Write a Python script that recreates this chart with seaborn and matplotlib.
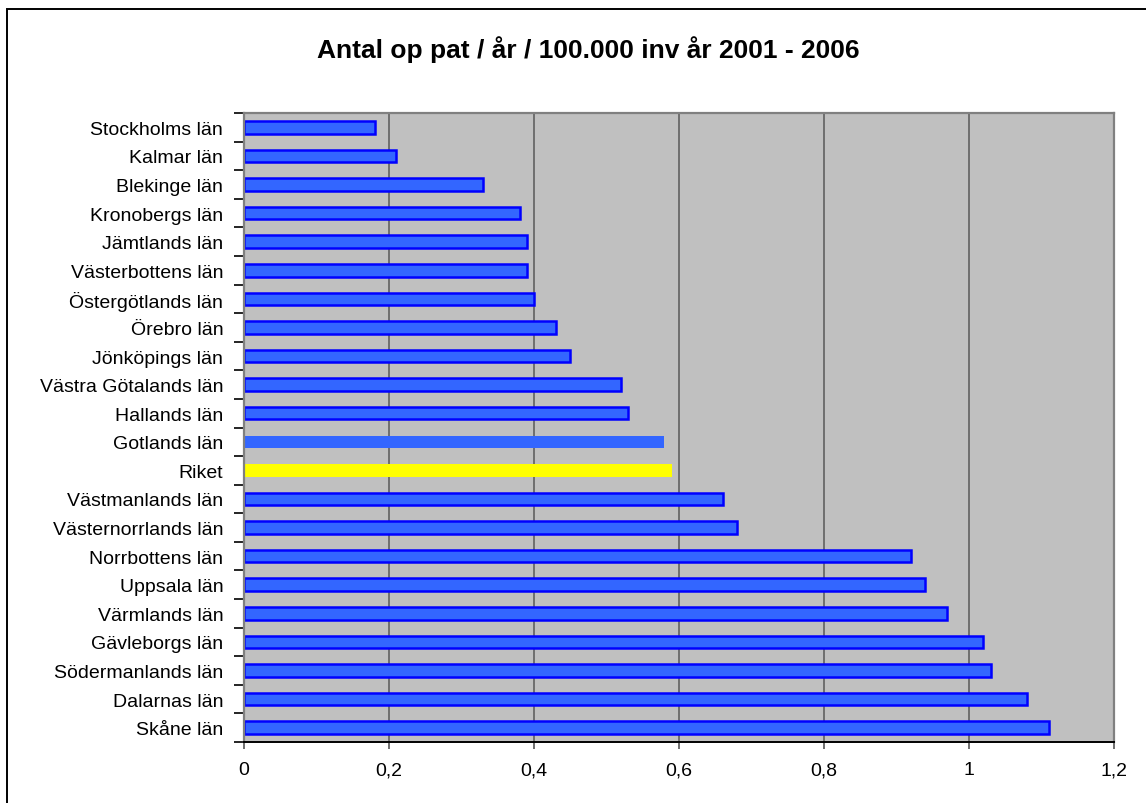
import matplotlib
matplotlib.use("Agg")
import matplotlib.pyplot as plt
import matplotlib.patches as mpatches
from matplotlib.ticker import FixedLocator, FuncFormatter
import seaborn as sns
import pandas as pd
import numpy as np

lan = [
    "Stockholms län", "Kalmar län", "Blekinge län", "Kronobergs län",
    "Jämtlands län", "Västerbottens län", "Östergötlands län", "Örebro län",
    "Jönköpings län", "Västra Götalands län", "Hallands län", "Gotlands län",
    "Riket", "Västmanlands län", "Västernorrlands län", "Norrbottens län",
    "Uppsala län", "Värmlands län", "Gävleborgs län", "Södermanlands län",
    "Dalarnas län", "Skåne län",
]
varden = [
    0.18, 0.21, 0.33, 0.38, 0.39, 0.39, 0.40, 0.43, 0.45, 0.52, 0.53, 0.58,
    0.59, 0.66, 0.68, 0.92, 0.94, 0.97, 1.02, 1.03, 1.08, 1.11,
]
titel = "Antal op pat / år / 100.000 inv år 2001 - 2006"

BLA = "#3366FF"
KANT = "#0000FF"
GUL = "#FFFF00"

farger = []
kanter = []
for namn in lan:
    if namn == "Riket":
        farger.append(GUL)
        kanter.append("none")
    elif namn == "Gotlands län":
        farger.append(BLA)
        kanter.append("none")
    else:
        farger.append(BLA)
        kanter.append(KANT)

df = pd.DataFrame({"lan": lan, "varde": varden})

sns.set_style("white")
plt.rcParams["font.family"] = ["Liberation Sans", "DejaVu Sans"]
plt.rcParams["text.color"] = "black"
plt.rcParams["xtick.color"] = "black"
plt.rcParams["ytick.color"] = "black"

fig = plt.figure(figsize=(11.46, 8.04), dpi=100)
ax = fig.add_axes([244 / 1146, 1 - 743 / 804, (1114 - 244) / 1146, (743 - 114) / 804])
ax.set_facecolor("#C0C0C0")

sns.barplot(data=df, x="varde", y="lan", hue="lan", palette=farger,
            saturation=1, legend=False, width=0.44, ax=ax, orient="h")

for patch, kant in zip(ax.patches, kanter):
    if kant == "none":
        patch.set_edgecolor("none")
        patch.set_linewidth(0)
    else:
        patch.set_edgecolor(kant)
        patch.set_linewidth(1.8)

ax.set_xlim(0, 1.2)
ax.set_ylim(len(lan) - 0.5, -0.5)
ax.set_xticks(np.arange(0, 1.21, 0.2))
ax.xaxis.set_major_formatter(FuncFormatter(
    lambda v, p: "0" if abs(v) < 1e-9 else ("1" if abs(v - 1) < 1e-9 else f"{v:.1f}".replace(".", ","))))
ax.grid(axis="x", color="#6E6E6E", linewidth=1.4)
ax.grid(axis="y", visible=False)
ax.set_axisbelow(True)

ax.set_xlabel("")
ax.set_ylabel("")

# category ticks sit between the bars
ax.yaxis.set_minor_locator(FixedLocator(np.arange(-0.5, len(lan), 1.0)))
ax.tick_params(axis="y", which="major", length=0, pad=15, labelsize=14, labelcolor="black")
ax.tick_params(axis="y", which="minor", length=7, width=1.2, color="black", left=True)
ax.tick_params(axis="x", which="major", length=5, width=1.2, color="#555555",
               labelsize=14, labelcolor="black", pad=9, bottom=True)

for side in ["top", "right", "left"]:
    ax.spines[side].set_visible(True)
    ax.spines[side].set_color("#808080")
    ax.spines[side].set_linewidth(1.6)
ax.spines["bottom"].set_color("black")
ax.spines["bottom"].set_linewidth(1.4)

fig.text(588 / 1146, 1 - 50 / 804, titel, ha="center", va="center",
         fontsize=19, fontweight="bold", color="black")

# outer chart border
fig.patches.append(mpatches.Rectangle((7 / 1146, -0.05), 1.2, 1 - 10 / 804 + 0.05,
                                      transform=fig.transFigure, fill=False,
                                      edgecolor="black", linewidth=1.4))

fig.savefig("out.png", dpi=100)
